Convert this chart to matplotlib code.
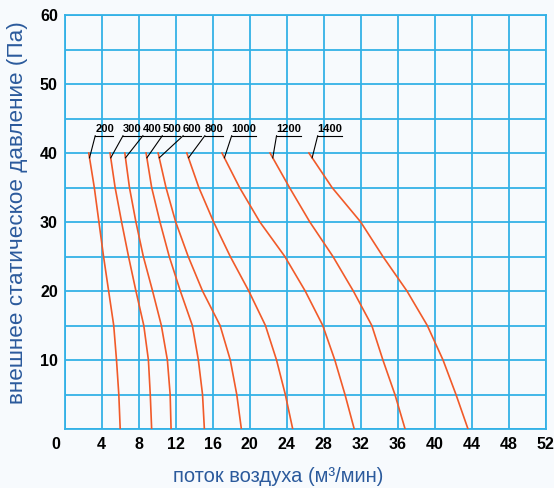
import numpy as np
import matplotlib
matplotlib.use("Agg")
import matplotlib.pyplot as plt
from matplotlib.transforms import ScaledTranslation, offset_copy
from matplotlib.textpath import TextPath
from matplotlib.font_manager import FontProperties

plt.rcParams['font.family'] = ['Liberation Sans', 'DejaVu Sans']

# static pressure levels (Pa) at which the flow was read
pressure = [40, 35, 30, 25, 20, 15, 10, 5, 0]

# air flow (m3/min) for each fan speed curve
speeds = ['200', '300', '400', '500', '600', '800', '1000', '1200', '1400']
flow = {
    '200':  [2.6, 3.2, 3.7, 4.2, 4.75, 5.3, 5.6, 5.85, 6.0],
    '300':  [4.9, 5.45, 6.15, 6.9, 7.7, 8.55, 9.05, 9.25, 9.4],
    '400':  [6.5, 7.0, 7.7, 8.5, 9.5, 10.45, 11.1, 11.4, 11.5],
    '500':  [8.8, 9.4, 10.3, 11.3, 12.5, 13.8, 14.45, 14.9, 15.1],
    '600':  [10.1, 10.95, 12.0, 13.35, 14.9, 16.8, 17.9, 18.6, 19.1],
    '800':  [13.2, 14.5, 16.1, 17.9, 19.9, 21.7, 22.9, 23.85, 24.65],
    '1000': [17.0, 18.9, 21.1, 23.8, 26.0, 27.9, 29.2, 30.3, 31.3],
    '1200': [22.2, 24.3, 26.5, 29.0, 31.2, 33.2, 34.4, 35.7, 36.8],
    '1400': [26.4, 28.9, 32.0, 34.4, 37.0, 39.2, 40.9, 42.3, 43.6],
}

xticks = list(range(0, 53, 4))
yticks = [10, 20, 30, 40, 50, 60]

# where each label's leader line ends (left end of the underline)
label_x = [3.3, 6.3, 8.45, 10.55, 12.8, 15.15, 18.05, 22.9, 27.35]
label_y = 42.5

grid_col = '#33b1e6'
curve_col = '#f15a29'
text_blue = '#2b5a9c'
bg = '#f7fafd'

fig = plt.figure(figsize=(5.54, 4.88), dpi=100, facecolor=bg)
ax = fig.add_axes([64.7 / 554, 1 - 429 / 488, 481 / 554, 414 / 488])
ax.set_facecolor(bg)

for s in speeds:
    ax.plot(flow[s], pressure, color=curve_col, lw=1.2, zorder=3)

ax.set_xlim(0, 52)
ax.set_ylim(0, 60)
ax.set_xticks(xticks)
ax.set_yticks(yticks)
ax.set_yticks(range(0, 61, 5), minor=True)
ax.set_xticklabels([str(v) for v in xticks], fontweight='bold', fontsize=11.5)
ax.set_yticklabels([str(v) for v in yticks], fontweight='bold', fontsize=11.5)
ax.tick_params(which='both', length=0, pad=5, colors='black')
ax.tick_params(axis='x', pad=6)
ax.grid(True, which='both', color=grid_col, lw=1.3, zorder=1)
for sp in ax.spines.values():
    sp.set_color(grid_col)
    sp.set_linewidth(1.3)

# the "0" label sits left of the corner
lbl0 = ax.get_xticklabels()[0]
lbl0.set_transform(lbl0.get_transform() + ScaledTranslation(-9 / 100, 0, fig.dpi_scale_trans))

fig.text(278 / 554, 1 - 476 / 488, 'поток воздуха (м³/мин)', color=text_blue,
         fontsize=14.5, ha='center', va='center')
fig.text(18 / 554, 1 - 213 / 488, 'внешнее статическое давление (Па)', color=text_blue,
         fontsize=16.2, ha='center', va='center', rotation=90)

# speed labels with leader lines and underlines
lab_size = 8
lab_font = FontProperties(family='Liberation Sans', weight='bold', size=lab_size)
for s, lx in zip(speeds, label_x):
    x_start = np.interp(39.3, pressure[::-1], flow[s][::-1])
    ax.plot([x_start, lx], [39.3, label_y], color='black', lw=0.8, zorder=4)
    ax.text(lx, label_y, s, fontproperties=lab_font, ha='left', va='bottom',
            transform=offset_copy(ax.transData, fig=fig, x=0, y=1.5, units='points'),
            zorder=4)
    # underline as wide as the text
    w_pts = TextPath((0, 0), s, prop=lab_font).get_extents().x1
    x_end = ax.transData.inverted().transform(
        ax.transData.transform((lx, label_y)) + np.array([w_pts * fig.dpi / 72, 0]))[0]
    ax.plot([lx, x_end], [label_y, label_y], color='black', lw=0.8, zorder=4)

fig.savefig('out.png', dpi=100, facecolor=bg)
